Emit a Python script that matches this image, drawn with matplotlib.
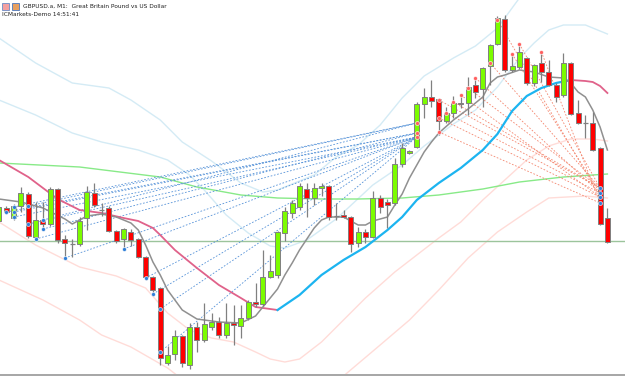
"""GBPUSD M1 candlestick chart with moving averages, bands and fan lines."""

import numpy as np
import matplotlib

matplotlib.use("Agg")
import matplotlib.pyplot as plt
from matplotlib.patches import Rectangle

# candle data, in points (1 point = 0.00001)
opens = [179, 192, 182, 194, 206, 163, 180, 176, 211, 161, 156, 156, 182, 207, 190, 192, 169, 161, 168, 161,
         143, 123, 112, 37, 46, 64, 35, 73, 60, 73, 78, 65, 77, 74, 82, 98, 96, 123, 125, 167,
         187, 193, 211, 202, 212, 214, 184, 185, 183, 157, 168, 163, 202, 198, 197, 236, 247, 253, 296, 303,
         301, 279, 287, 297, 297, 315, 311, 334, 356, 381, 330, 333, 342, 317, 337, 328, 315, 305, 337, 287,
         277, 277, 252, 182]
highs = [196, 194, 196, 213, 208, 198, 198, 213, 212, 165, 161, 183, 214, 217, 197, 194, 170, 172, 171, 162,
         144, 124, 113, 54, 70, 65, 77, 78, 97, 87, 83, 97, 95, 95, 100, 117, 150, 145, 169, 193,
         200, 217, 217, 217, 217, 215, 197, 190, 184, 173, 171, 209, 205, 201, 242, 257, 250, 298, 312, 320,
         302, 293, 304, 306, 323, 322, 333, 356, 384, 385, 347, 357, 343, 336, 348, 340, 317, 347, 338, 300,
         285, 288, 253, 192]
lows = [176, 186, 180, 188, 162, 160, 170, 174, 157, 142, 143, 154, 170, 193, 184, 168, 157, 150, 154, 142,
        120, 104, 35, 35, 40, 33, 31, 48, 58, 70, 62, 62, 55, 62, 80, 93, 94, 122, 122, 159,
        182, 190, 183, 195, 204, 180, 180, 182, 148, 153, 157, 162, 187, 172, 195, 233, 246, 252, 282, 293,
        265, 277, 282, 292, 285, 302, 293, 315, 355, 328, 328, 331, 315, 314, 318, 314, 298, 303, 285, 276,
        262, 249, 175, 157]
closes = [193, 188, 194, 207, 164, 180, 176, 211, 160, 157, 156, 179, 208, 195, 190, 169, 159, 171, 160, 143,
          123, 110, 42, 45, 64, 37, 73, 60, 76, 78, 65, 77, 75, 82, 98, 96, 123, 129, 168, 189,
          197, 214, 202, 212, 214, 183, 184, 183, 156, 168, 163, 202, 193, 195, 236, 252, 249, 296, 303, 299,
          279, 287, 297, 296, 313, 308, 332, 355, 382, 330, 334, 348, 317, 335, 328, 315, 303, 337, 286, 277,
          277, 250, 176, 158]

# fast moving average (grey)
ma_fast_idx = [0, 3, 6, 9, 10, 12, 14, 16, 18, 19, 20, 21, 22, 23, 24, 25, 27, 30, 33, 35, 36, 37, 38, 39,
               40, 41, 42, 43, 44, 45, 47, 49, 50, 51, 53, 54, 55, 56, 57, 58, 59, 60, 62, 64, 66, 67, 68,
               69, 71, 73, 75, 77, 78, 79, 80, 81, 82, 83]
ma_fast = [201, 198, 192, 181, 176, 184, 186, 183, 177, 170, 155, 138, 125, 110, 100, 90, 81, 78, 77, 84, 93,
           102, 111, 125, 137, 150, 161, 172, 180, 183, 183, 175, 175, 179, 183, 195, 206, 222, 235, 248, 258,
           267, 280, 291, 303, 317, 323, 325, 330, 328, 323, 322, 317, 308, 303, 290, 273, 250]

# trend moving average, pink while falling and blue while rising
ma_trend_idx = [0, 4, 8, 11, 14, 17, 19, 21, 22, 24, 27, 30, 33, 35, 38, 41, 44, 47, 50, 53, 55, 57, 60, 63,
                66, 68, 70, 72, 74, 76, 78, 80, 81, 82, 83]
ma_trend = [240, 223, 201, 190, 187, 182, 179, 172, 165, 150, 132, 115, 102, 93, 90, 105, 125, 140, 153, 170,
            183, 200, 217, 232, 250, 266, 289, 304, 312, 317, 320, 319, 318, 314, 307]
trend_turns = [38, 78]

# slow moving average (green)
ma_slow_idx = [0, 11, 22, 27, 33, 38, 44, 49, 55, 60, 66, 71, 77, 83]
ma_slow = [237, 233, 223, 213, 205, 202, 201, 201, 202, 205, 211, 218, 223, 226]

level_line = 159

# envelope bands
band_up_outer_idx = [0, 5, 10, 13, 15, 18, 22, 25, 29, 33, 36, 38, 43, 46, 49, 52, 55, 58, 62, 65, 68, 70,
                     71, 73, 76, 80, 83]
band_up_outer = [362, 337, 317, 314, 312, 300, 280, 258, 239, 217, 208, 210, 225, 243, 255, 275, 302, 324,
                 342, 354, 372, 392, 402, 420, 435, 435, 425]
band_up_inner_idx = [0, 5, 10, 14, 19, 23, 26, 28, 31, 34, 37, 39, 42, 46, 51, 55, 58, 62, 65, 68, 71, 73,
                     75, 77, 80, 83]
band_up_inner = [300, 285, 267, 258, 250, 240, 225, 210, 185, 167, 154, 152, 160, 181, 215, 235, 254, 276,
                 290, 313, 342, 357, 370, 375, 375, 366]
band_dn_inner_idx = [0, 5, 11, 16, 20, 23, 26, 29, 32, 35, 37, 39, 41, 44, 47, 50, 54, 57, 60, 63, 66, 69,
                     72, 75, 78, 81, 83]
band_dn_inner = [178, 155, 133, 124, 112, 87, 70, 62, 58, 48, 41, 38, 41, 58, 80, 102, 128, 145, 162, 178,
                 200, 220, 240, 254, 261, 261, 259]
band_dn_outer_idx = [0, 6, 11, 14, 18, 23, 26, 35, 45, 47, 52, 56, 60, 64, 68, 72, 75, 80, 83]
band_dn_outer = [120, 100, 80, 65, 53, 32, 15, -20, 10, 24, 55, 80, 110, 142, 168, 188, 202, 204, 202]

# fan lines from swing lows (blue) and swing highs (red)
fan_up_from_idx = [1, 2, 2, 2, 4, 4, 5, 6, 6, 9, 17, 20, 21, 22, 22]
fan_up_from = [188, 193, 188, 183, 194, 176, 161, 180, 171, 142, 151, 122, 106, 91, 48]
fan_up_to_idx = 57
fan_up_to = [267, 277, 267, 263, 277, 263, 263, 277, 267, 263, 263, 263, 263, 263, 263]

fan_dn_from_idx = [60, 60, 60, 61, 62, 63, 64, 65, 67, 68, 70, 71, 74]
fan_dn_from = [300, 282, 268, 287, 298, 305, 312, 322, 337, 380, 346, 356, 348]
fan_dn_to_idx = 82
fan_dn_to = [212, 203, 197, 207, 212, 203, 212, 207, 212, 203, 207, 212, 197]

GREEN = "#7cfc00"
RED = "#ff0000"
EDGE = "#808080"

fig = plt.figure(figsize=(6.25, 3.76), dpi=100)
ax = fig.add_axes([0, 2 / 376, 1, 374 / 376])

# bands and averages
ax.plot(band_up_outer_idx, band_up_outer, color="#d4ebf5", lw=1.0, zorder=1)
ax.plot(band_up_inner_idx, band_up_inner, color="#d4ebf5", lw=1.0, zorder=1)
ax.plot(band_dn_inner_idx, band_dn_inner, color="#ffdcd8", lw=1.0, zorder=1)
ax.plot(band_dn_outer_idx, band_dn_outer, color="#ffdcd8", lw=1.0, zorder=1)
ax.axhline(level_line, color="#9cc49c", lw=1.0, zorder=1)
ax.plot(ma_slow_idx, ma_slow, color="#88ea88", lw=1.0, zorder=2)

# fans
for x0, y0, y1 in zip(fan_up_from_idx, fan_up_from, fan_up_to):
    ax.plot([x0, fan_up_to_idx], [y0, y1], color="#5592d8", lw=0.6, ls=(0, (2, 2)), zorder=2)
for x0, y0, y1 in zip(fan_dn_from_idx, fan_dn_from, fan_dn_to):
    ax.plot([x0, fan_dn_to_idx], [y0, y1], color="#f4866e", lw=0.6, ls=(0, (2, 2)), zorder=2)

# trend average, split by direction
t_idx = np.array(ma_trend_idx)
t_val = np.array(ma_trend)
a, b = trend_turns
seg1 = t_idx <= a
seg2 = (t_idx >= a) & (t_idx <= b)
seg3 = t_idx >= b
ax.plot(t_idx[seg1], t_val[seg1], color="#e0628a", lw=1.3, zorder=3)
ax.plot(t_idx[seg2], t_val[seg2], color="#1cb4f0", lw=1.6, zorder=3)
ax.plot(t_idx[seg3], t_val[seg3], color="#e0628a", lw=1.3, zorder=3)

ax.plot(ma_fast_idx, ma_fast, color="#909090", lw=1.1, zorder=3)

# candles
o = np.array(opens)
h = np.array(highs)
l = np.array(lows)
c = np.array(closes)
x = np.arange(len(o))
ax.vlines(x, l, h, color=EDGE, lw=0.9, zorder=4)
width = 0.68
for xi, oi, ci in zip(x, o, c):
    if ci == oi:
        ax.hlines(oi, xi - width / 2, xi + width / 2, color=EDGE, lw=0.9, zorder=5)
        continue
    color = GREEN if ci > oi else RED
    ax.bar(xi, abs(ci - oi), bottom=min(oi, ci), width=width, color=color,
           edgecolor=EDGE, linewidth=0.7, zorder=5)

# markers at the fan ends
up_ends = sorted(set(fan_up_to))
dn_ends = sorted(set(fan_dn_to))
ax.scatter(fan_up_from_idx, fan_up_from, s=8, color="#2f7fd8", edgecolors="white", linewidths=0.4, zorder=6)
ax.scatter([fan_up_to_idx] * len(up_ends), up_ends, s=8, color="#ff6060", edgecolors="white",
           linewidths=0.4, zorder=6)
ax.scatter(fan_dn_from_idx, fan_dn_from, s=8, color="#ff6060", edgecolors="white", linewidths=0.4, zorder=6)
ax.scatter([fan_dn_to_idx] * len(dn_ends), dn_ends, s=8, color="#2f7fd8", edgecolors="white",
           linewidths=0.4, zorder=6)

ax.set_xlim(0.14, 85.4)
ax.set_ylim(26, 400)
ax.axis("off")

# header
fig.patches.append(Rectangle((2 / 625, 1 - 10 / 376), 7 / 625, 7 / 376, transform=fig.transFigure,
                             facecolor="#f4a0a0", edgecolor="#6a8cc8", lw=0.6))
fig.patches.append(Rectangle((12 / 625, 1 - 10 / 376), 7 / 625, 7 / 376, transform=fig.transFigure,
                             facecolor="#e8a060", edgecolor="#4a78c0", lw=0.6))
fig.text(23 / 625, 1 - 6.5 / 376, "GBPUSD.a, M1:  Great Britain Pound vs US Dollar", fontsize=4.2,
         va="center", ha="left", color="#202020")
fig.text(2 / 625, 1 - 15 / 376, "ICMarkets-Demo 14:51:41", fontsize=4.2, va="center", ha="left",
         color="#202020")
fig.patches.append(Rectangle((0, 0), 1, 2 / 376, transform=fig.transFigure, facecolor="#a8a8a8",
                             edgecolor="none"))

fig.savefig("out.png", dpi=100)
